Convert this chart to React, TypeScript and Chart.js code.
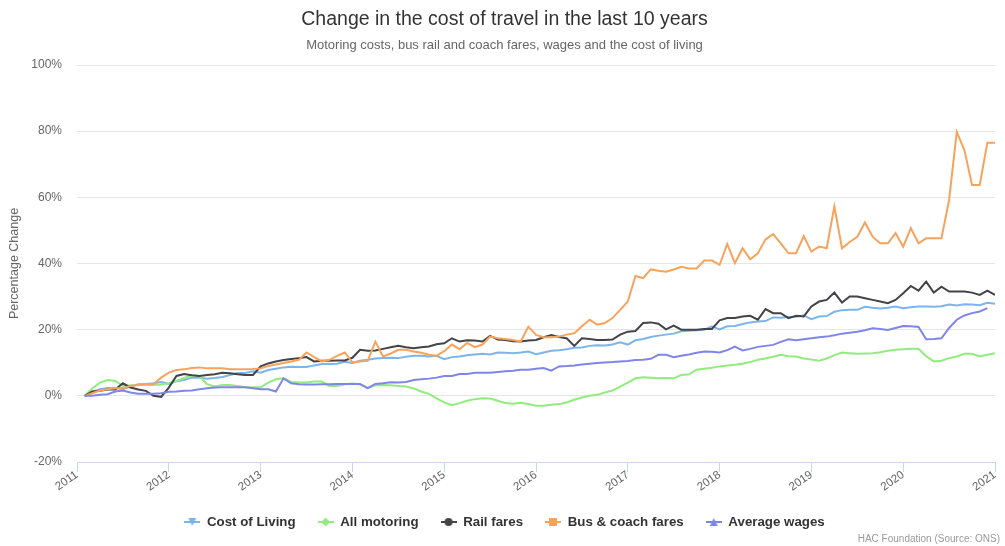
import React, { useEffect, useRef } from "react";
import { Chart, registerables } from "chart.js";

Chart.register(...registerables);

// ---------- text ----------
const TITLE = "Change in the cost of travel in the last 10 years";
const SUBTITLE = "Motoring costs, bus rail and coach fares, wages and the cost of living";
const Y_TITLE = "Percentage Change";
const CREDITS = "HAC Foundation (Source: ONS)";

// ---------- axes ----------
const FIRST_YEAR = 2011;
const LAST_YEAR = 2021;
const FIRST_MONTH = 1; // months after January of FIRST_YEAR (1 = February 2011)
const Y_MIN = -20;
const Y_MAX = 100;
const Y_STEP = 20;

// ---------- series ----------
const SERIES_NAMES = ["Cost of Living", "All motoring", "Rail fares", "Bus & coach fares", "Average wages"];
const SERIES_COLORS = ["#7cb5ec", "#90ed7d", "#434348", "#f7a35c", "#8085e9"];
const SERIES_MARKERS = ["triangle-down", "diamond", "circle", "square", "triangle"];

// monthly values, % change, Feb 2011 .. Jan 2021 (one row = Feb..Jan)
const costOfLiving = [
  0, 1.2, 2.0, 2.4, 2.4, 2.1, 2.7, 3.5, 3.6, 3.8, 4.2, 3.6,
  4.4, 4.8, 5.5, 5.5, 5.2, 5.4, 5.7, 6.3, 6.9, 6.9, 7.4, 7.0,
  7.8, 8.2, 8.6, 8.8, 8.7, 8.7, 9.2, 9.6, 9.6, 9.7, 10.3, 9.9,
  10.6, 10.9, 11.3, 11.4, 11.5, 11.4, 11.8, 12.1, 12.1, 11.9, 12.1, 11.1,
  11.7, 11.9, 12.3, 12.5, 12.7, 12.5, 13.1, 13.0, 12.9, 13.1, 13.4, 12.6,
  13.1, 13.6, 13.8, 14.1, 14.5, 14.6, 15.1, 15.3, 15.2, 15.5, 16.2, 15.5,
  16.8, 17.2, 17.8, 18.2, 18.5, 18.8, 19.5, 19.7, 19.8, 20.0, 21.0, 20.1,
  21.0, 21.1, 21.7, 22.2, 22.5, 22.6, 23.7, 23.6, 23.8, 23.9, 24.3, 23.2,
  24.0, 24.1, 25.4, 25.9, 26.0, 26.0, 26.9, 26.6, 26.4, 26.6, 27.0, 26.5,
  26.8, 27.0, 27.0, 26.9, 27.1, 27.6, 27.3, 27.7, 27.6, 27.4, 28.1, 27.8,
];

const allMotoring = [
  0, 2.2, 4.0, 4.8, 4.5, 3.0, 3.2, 3.3, 3.3, 3.3, 3.4, 3.8,
  4.5, 5.4, 6.2, 6.0, 3.5, 2.8, 3.3, 3.3, 3.0, 2.6, 2.6, 2.6,
  4.0, 5.0, 5.3, 4.2, 4.0, 4.0, 4.3, 4.3, 3.0, 3.0, 3.5, 3.7,
  3.4, 2.3, 3.2, 3.3, 3.2, 3.0, 2.8, 2.2, 1.3, 0.6, -0.8, -2.0,
  -2.8, -2.2, -1.5, -1.0, -0.7, -0.8, -1.5, -2.2, -2.4, -2.1, -2.5, -3.0,
  -3.0, -2.7, -2.5, -2.0, -1.2, -0.5, 0.0, 0.3, 1.0, 1.6, 2.8, 4.0,
  5.3, 5.6, 5.5, 5.3, 5.4, 5.3, 6.3, 6.5, 7.9, 8.2, 8.5, 8.9,
  9.2, 9.4, 9.7, 10.2, 10.9, 11.3, 11.8, 12.4, 12.0, 11.9, 11.3, 11.0,
  10.6, 11.3, 12.3, 13.1, 12.9, 12.7, 12.8, 12.9, 13.2, 13.6, 13.9, 14.1,
  14.2, 14.2, 12.0, 10.4, 10.6, 11.4, 11.9, 12.7, 12.7, 11.9, 12.4, 12.9,
];

const railFares = [
  0, 1.3, 1.5, 1.9, 1.9, 3.8, 2.5, 1.9, 1.5, 0.0, -0.3, 2.5,
  6.0, 6.6, 6.2, 6.0, 6.3, 6.5, 7.0, 6.8, 6.5, 6.3, 6.3, 8.9,
  9.8, 10.4, 10.8, 11.1, 11.4, 11.7, 10.4, 10.6, 10.6, 10.7, 10.7, 11.5,
  13.9, 13.6, 13.7, 14.2, 14.7, 15.1, 14.7, 14.4, 14.7, 14.9, 15.6, 15.9,
  17.4, 16.4, 16.8, 16.7, 16.4, 18.1, 17.0, 16.9, 16.5, 16.4, 16.7, 16.9,
  17.7, 18.4, 17.8, 17.4, 15.1, 17.4, 17.2, 16.9, 16.9, 17.0, 18.5, 19.4,
  19.6, 22.0, 22.2, 21.8, 20.1, 21.2, 20.0, 20.0, 20.0, 20.2, 20.2, 22.8,
  23.5, 23.5, 24.0, 24.2, 23.0, 26.2, 25.0, 25.0, 23.5, 24.2, 24.0, 27.0,
  28.5, 29.0, 31.2, 28.2, 30.0, 30.0, 29.5, 29.0, 28.5, 28.0, 29.0, 31.0,
  33.2, 31.8, 34.5, 31.2, 33.0, 31.5, 31.5, 31.5, 31.2, 30.5, 31.8, 30.5,
];

const busCoachFares = [
  0, 0.8, 1.6, 2.0, 2.3, 2.3, 3.0, 3.3, 3.6, 3.6, 5.5, 7.0,
  7.8, 8.0, 8.4, 8.6, 8.3, 8.3, 8.3, 8.0, 8.0, 8.0, 8.1, 8.3,
  9.0, 9.5, 9.9, 10.4, 10.9, 13.1, 11.7, 10.4, 10.9, 12.1, 13.1, 10.1,
  10.4, 10.6, 16.4, 11.9, 12.8, 13.9, 13.9, 13.4, 13.0, 12.4, 12.1, 13.5,
  15.5, 14.1, 16.0, 14.7, 15.5, 17.9, 17.4, 17.2, 16.9, 16.4, 20.9, 18.4,
  17.7, 17.7, 17.9, 18.5, 18.9, 21.0, 23.0, 21.5, 22.0, 23.5, 26.0, 28.5,
  36.2, 35.6, 38.2, 37.8, 37.5, 38.2, 39.0, 38.5, 38.5, 40.9, 40.9, 39.6,
  45.9, 40.1, 44.6, 41.3, 43.1, 47.3, 48.9, 46.1, 43.1, 43.1, 48.3, 43.6,
  45.1, 44.6, 57.2, 44.6, 46.5, 48.1, 52.4, 48.1, 46.1, 46.1, 49.2, 45.1,
  50.7, 46.1, 47.6, 47.6, 47.6, 59.2, 79.8, 74.3, 63.7, 63.7, 76.5, 76.5,
];

const averageWages = [
  0, 0, 0.3, 0.5, 1.3, 1.6, 1.0, 0.6, 0.6, 0.6, 0.8, 1.2,
  1.3, 1.5, 1.6, 2.0, 2.3, 2.5, 2.6, 2.6, 2.6, 2.6, 2.3, 2.0,
  2.0, 1.3, 5.3, 3.8, 3.5, 3.4, 3.4, 3.5, 3.5, 3.6, 3.6, 3.6,
  3.6, 2.3, 3.6, 3.8, 4.1, 4.0, 4.2, 4.8, 5.0, 5.2, 5.5, 6.0,
  6.0, 6.6, 6.6, 7.0, 7.0, 7.0, 7.2, 7.4, 7.6, 7.9, 7.9, 8.2,
  8.4, 7.6, 8.9, 9.0, 9.2, 9.5, 9.7, 9.9, 10.1, 10.2, 10.4, 10.5,
  10.8, 10.9, 11.2, 12.4, 12.4, 11.7, 12.1, 12.5, 13.0, 13.4, 13.3, 13.1,
  13.8, 14.9, 13.7, 14.2, 14.8, 15.1, 15.4, 16.3, 17.1, 16.8, 17.1, 17.4,
  17.7, 17.9, 18.3, 18.8, 19.1, 19.4, 19.8, 20.4, 20.2, 19.9, 20.5, 21.1,
  21.0, 20.8, 17.1, 17.2, 17.4, 20.5, 23.0, 24.3, 25.0, 25.5, 26.5, null,
];

const SERIES_VALUES: (number | null)[][] = [costOfLiving, allMotoring, railFares, busCoachFares, averageWages];

const FONT = "'Liberation Sans', Arial, Helvetica, sans-serif";

function makeLegendSymbol(color: string, marker: string): HTMLCanvasElement {
  const c = document.createElement("canvas");
  c.width = 16;
  c.height = 10;
  const g = c.getContext("2d")!;
  g.strokeStyle = color;
  g.lineWidth = 2;
  g.beginPath();
  g.moveTo(0, 5);
  g.lineTo(16, 5);
  g.stroke();
  g.fillStyle = color;
  const cx = 8, cy = 5, r = 4;
  g.beginPath();
  if (marker === "circle") {
    g.arc(cx, cy, r, 0, Math.PI * 2);
  } else if (marker === "square") {
    g.rect(cx - r, cy - r, 2 * r, 2 * r);
  } else if (marker === "diamond") {
    g.moveTo(cx, cy - r - 0.5);
    g.lineTo(cx + r + 0.5, cy);
    g.lineTo(cx, cy + r + 0.5);
    g.lineTo(cx - r - 0.5, cy);
    g.closePath();
  } else if (marker === "triangle") {
    g.moveTo(cx, cy - r);
    g.lineTo(cx + r, cy + r);
    g.lineTo(cx - r, cy + r);
    g.closePath();
  } else {
    g.moveTo(cx - r, cy - r);
    g.lineTo(cx + r, cy - r);
    g.lineTo(cx, cy + r);
    g.closePath();
  }
  g.fill();
  return c;
}

const creditsPlugin = {
  id: "credits",
  afterDraw(chart: any) {
    const ctx = chart.ctx as CanvasRenderingContext2D;
    ctx.save();
    ctx.font = `10px ${FONT}`;
    ctx.fillStyle = "#999999";
    ctx.textAlign = "right";
    ctx.textBaseline = "alphabetic";
    ctx.fillText(CREDITS, chart.width - 5, chart.height - 4);
    ctx.restore();
  },
};

export default function App() {
  const ref = useRef<HTMLCanvasElement>(null);

  useEffect(() => {
    const canvas = ref.current;
    if (!canvas) return;
    const monthX = (i: number) => FIRST_YEAR + (FIRST_MONTH + i) / 12;
    const datasets = SERIES_NAMES.map((name, s) => ({
      label: name,
      data: SERIES_VALUES[s].map((v, i) => ({ x: monthX(i), y: v })),
      borderColor: SERIES_COLORS[s],
      backgroundColor: SERIES_COLORS[s],
      borderWidth: 2,
      pointRadius: 0,
      pointHoverRadius: 0,
      pointStyle: makeLegendSymbol(SERIES_COLORS[s], SERIES_MARKERS[s]),
      tension: 0,
      fill: false,
      order: SERIES_NAMES.length - s,
    }));

    const chart = new Chart(canvas, {
      type: "line",
      data: { datasets },
      plugins: [creditsPlugin],
      options: {
        responsive: false,
        animation: false,
        devicePixelRatio: 1,
        layout: { padding: { left: 14, right: 10, top: 0, bottom: 7.35 } },
        events: [],
        plugins: {
          title: {
            display: true,
            text: TITLE,
            color: "#333333",
            font: { family: FONT, size: 19.5, weight: "normal" },
            padding: { top: 8, bottom: 4 },
          },
          subtitle: {
            display: true,
            text: SUBTITLE,
            color: "#666666",
            font: { family: FONT, size: 13, weight: "normal" },
            padding: { top: 2, bottom: 12 },
          },
          legend: {
            display: true,
            position: "bottom",
            labels: {
              usePointStyle: true,
              pointStyleWidth: 16,
              color: "#333333",
              font: { family: FONT, size: 13.3, weight: "bold" },
              padding: 22,
              sort: (a: any, b: any) => a.datasetIndex - b.datasetIndex,
            },
          },
          tooltip: { enabled: false },
        },
        scales: {
          x: {
            type: "linear",
            min: FIRST_YEAR,
            max: LAST_YEAR,
            afterFit: (scale: any) => {
              scale.height = 31.35;
            },
            ticks: {
              stepSize: 1,
              autoSkip: false,
              minRotation: 35,
              maxRotation: 35,
              padding: -4,
              color: "#666666",
              font: { family: FONT, size: 11.5 },
              callback: (v: any) => String(v),
            },
            grid: {
              drawOnChartArea: false,
              drawTicks: true,
              tickLength: 10,
              color: "#ccd6eb",
            },
            border: { display: true, color: "#ccd6eb" },
          },
          y: {
            type: "linear",
            min: Y_MIN,
            max: Y_MAX,
            afterFit: (scale: any) => {
              scale.width = 63;
            },
            ticks: {
              stepSize: Y_STEP,
              padding: 15,
              color: "#666666",
              font: { family: FONT, size: 12 },
              callback: (v: any) => `${v}%`,
            },
            grid: { color: "#e6e6e6", drawTicks: false, lineWidth: 1 },
            border: { display: false },
            title: {
              display: true,
              text: Y_TITLE,
              color: "#666666",
              font: { family: FONT, size: 12.5 },
              padding: { top: -6.5, bottom: 0 },
            },
          },
        },
      } as any,
    });
    return () => chart.destroy();
  }, []);

  return (
    <canvas
      ref={ref}
      width={1005}
      height={546}
      style={{ position: "absolute", left: 0, top: 0, width: 1005, height: 546 }}
    />
  );
}
